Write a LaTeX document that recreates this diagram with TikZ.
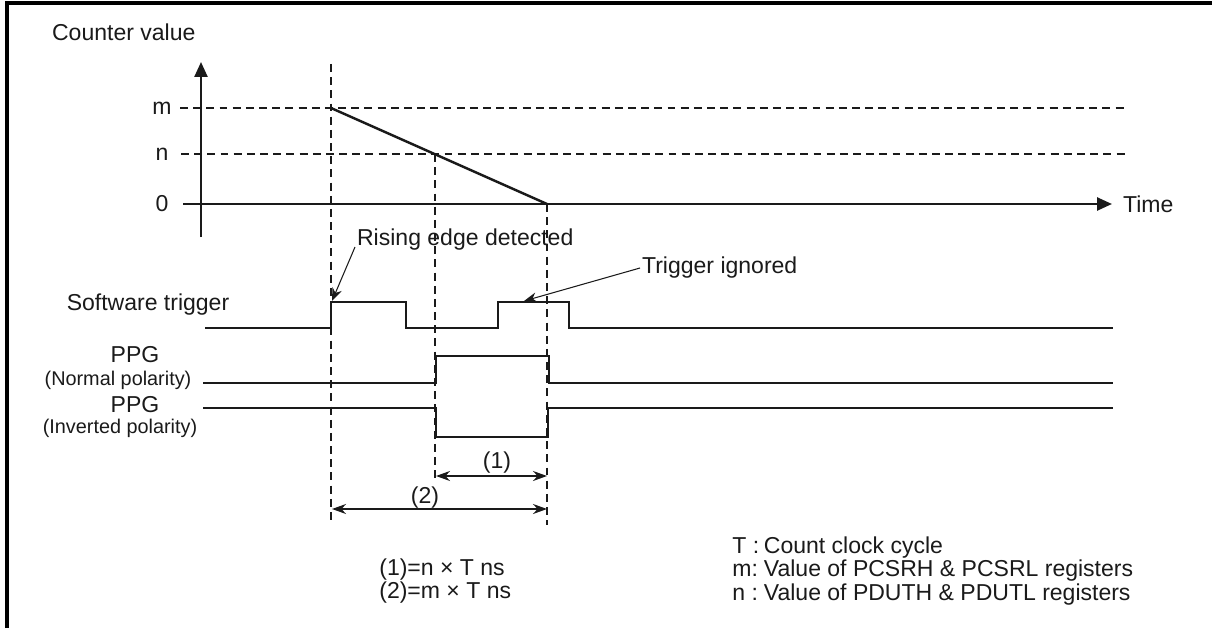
\documentclass[tikz,border=0pt]{standalone}
\usepackage{fontspec}
\setmainfont{Liberation Sans}
\usetikzlibrary{arrows.meta,positioning,calc}
\definecolor{inkdark}{HTML}{1A1A1A}
\tikzstyle{signal} = [line width=1.2pt, inkdark]
\tikzstyle{axis} = [line width=1.4pt, inkdark, -{Triangle[length=3mm,width=2.6mm]}]
\tikzstyle{guide} = [line width=0.6pt, inkdark, dash pattern=on 4.5pt off 3pt]
\tikzstyle{callout} = [line width=0.6pt, inkdark, -{Stealth[length=2.6mm,width=2mm]}]
\tikzstyle{span} = [line width=0.9pt, inkdark, {Stealth[length=2.8mm,width=2mm]}-{Stealth[length=2.8mm,width=2mm]}]
\tikzstyle{lbl} = [font=\fontsize{13.1}{15}\selectfont, text=inkdark, inner sep=1pt]
\tikzstyle{sublbl} = [font=\fontsize{11.3}{13}\selectfont, text=inkdark, inner sep=1pt]
\tikzstyle{notes} = [font=\fontsize{13.1}{11.4}\selectfont, text=inkdark, inner sep=0pt, align=left]
\newcommand{\keyof}[1]{\makebox[1.37em][l]{#1}}
\begin{document}
\begin{tikzpicture}[x=0.02cm, y=-0.02cm]
\useasboundingbox (0,0) rectangle (1212,628);
\draw[line width=2.2pt] (7,628) -- (7,3) -- (1212,3);

% counter value graph
\node[lbl, anchor=west] (cnt) at (50,32) {Counter value};
\node[lbl] (lm) at (162,108) {m};
\node[lbl] (ln) at (162,154) {n};
\node[lbl] (lz) at (162,204) {0};
\draw[guide] (180,108) -- (1127,108);
\draw[guide] (181,154) -- (1127,154);
\draw[axis] (201,237) -- (201,62);
\draw[axis] (183,204) -- (1112,204);
\node[lbl, anchor=west] (time) at (1121,204) {Time};
\draw[line width=1.4pt, inkdark] (331,108) -- (547,204);

% time markers
\coordinate (ta) at (331,64);
\coordinate (tb) at (435,154);
\coordinate (tc) at (547,204);
\draw[guide] (ta) -- (331,525);
\draw[guide] (tb) -- (435,480);
\draw[guide] (tc) -- (547,525);

% signals
\node[lbl] (swlbl) at (148,305) {Software trigger};
\draw[signal] (205,328) -- (331,328) -- (331,302) -- (406,302) -- (406,328) -- (498,328)
    -- (498,302) -- (569,302) -- (569,328) -- (1113,328);
\node[lbl] (ppg1) at (135,355) {PPG};
\node[sublbl] (pol1) at (118,380) {(Normal polarity)};
\draw[signal] (203,383) -- (436,383) -- (436,356) -- (549,356) -- (549,383) -- (1113,383);
\node[lbl] (ppg2) at (135,405) {PPG};
\node[sublbl] (pol2) at (120,428) {(Inverted polarity)};
\draw[signal] (203,408) -- (436,408) -- (436,437) -- (548,437) -- (548,408) -- (1113,408);

% callouts
\node[lbl, anchor=west] (rise) at (355,240) {Rising edge detected};
\coordinate (risept) at (332,301);
\draw[callout] ([yshift=-4pt]rise.west) -- (risept);
\node[lbl, anchor=west] (ign) at (640,268) {Trigger ignored};
\coordinate (ignpt) at (524,301);
\draw[callout] (ign.west) -- (ignpt);

% widths
\draw[span] (436,476) -- (547,476);
\node[lbl] (w1) at (497,463) {(1)};
\draw[span] (332,509) -- (547,509);
\node[lbl] (w2) at (425,498) {(2)};
\node[notes, anchor=west] (forms) at (379,581) {(1)=n × T ns\\(2)=m × T ns};

% legend
\node[notes, anchor=west] (legend) at (732,571) {\keyof{T :}Count clock cycle\\
    \keyof{m:}Value of PCSRH \& PCSRL registers\\
    \keyof{n :}Value of PDUTH \& PDUTL registers};
\end{tikzpicture}
\end{document}
